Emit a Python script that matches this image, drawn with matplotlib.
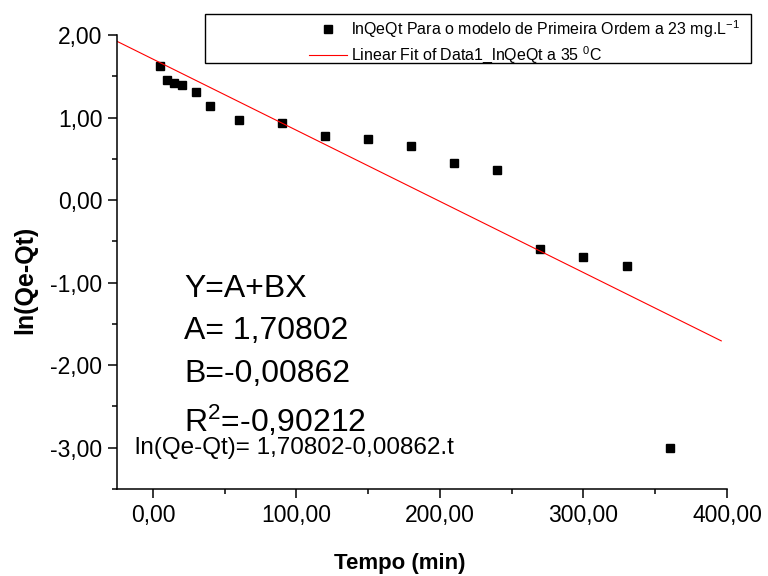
import matplotlib
matplotlib.use("Agg")
import matplotlib.pyplot as plt
from matplotlib.patches import Rectangle
from matplotlib.ticker import MultipleLocator, FuncFormatter

# dados
tempo = [5, 10, 15, 20, 30, 40, 60, 90, 120, 150, 180, 210, 240, 270, 300, 330, 360]
ln_qe_qt = [1.62, 1.45, 1.42, 1.40, 1.31, 1.14, 0.97, 0.93, 0.78, 0.74, 0.65,
            0.45, 0.36, -0.59, -0.69, -0.80, -3.00]

# ajuste linear
A = 1.70802
B = -0.00862
fit_x = [-25, 396]

plt.rcParams['font.family'] = ['Liberation Sans', 'DejaVu Sans']
plt.rcParams['mathtext.default'] = 'regular'


def virgula(v, pos):
    return f"{v:.2f}".replace('.', ',')


def main():
    fig = plt.figure(figsize=(7.68, 5.76), dpi=100)
    ax = fig.add_axes([117 / 768, 1 - 489 / 576, 610 / 768, 454 / 576])

    ax.plot(tempo, ln_qe_qt, 's', color='black', markersize=6, linestyle='none',
            label='lnQeQt Para o modelo de Primeira Ordem a 23 mg.L$^{-1}$')
    fit_y = [A + B * x for x in fit_x]
    ax.plot(fit_x, fit_y, color='red', lw=0.8,
            label='Linear Fit of Data1_lnQeQt a 35 $^{0}$C')

    ax.set_xlim(-25, 400)
    ax.set_ylim(-3.5, 2.0)
    ax.spines['top'].set_visible(False)
    ax.spines['right'].set_visible(False)
    ax.spines['left'].set_linewidth(1.1)
    ax.spines['bottom'].set_linewidth(1.1)

    ax.xaxis.set_major_locator(MultipleLocator(100))
    ax.xaxis.set_minor_locator(MultipleLocator(50))
    ax.yaxis.set_major_locator(MultipleLocator(1))
    ax.yaxis.set_minor_locator(MultipleLocator(0.5))
    ax.xaxis.set_major_formatter(FuncFormatter(virgula))
    ax.yaxis.set_major_formatter(FuncFormatter(virgula))
    ax.tick_params(which='major', direction='out', length=6.5, width=1.1, labelsize=16.5, pad=4)
    ax.tick_params(which='minor', direction='out', length=3.6, width=1.1)

    fig.text(400 / 768, 1 - 563 / 576, 'Tempo (min)', fontsize=16, fontweight='bold',
             ha='center', va='center')
    fig.text(25 / 768, 1 - 280 / 576, 'ln(Qe-Qt)', fontsize=18, fontweight='bold',
             ha='center', va='center', rotation=90)

    # texto do ajuste
    ax.text(22, -1.18, 'Y=A+BX', fontsize=23, va='baseline')
    ax.text(22, -1.68, 'A= 1,70802', fontsize=23, va='baseline')
    ax.text(22, -2.20, 'B=-0,00862', fontsize=23, va='baseline')
    ax.text(22, -2.81, 'R$^{2}$=-0,90212', fontsize=23, va='baseline')
    ax.text(-12.5, -3.08, 'ln(Qe-Qt)= 1,70802-0,00862.t', fontsize=17.5, va='baseline')

    # legenda
    fig.add_artist(Rectangle((205 / 768, 1 - 63 / 576), 546 / 768, 49 / 576,
                             transform=fig.transFigure, fill=False, lw=1, ec='black'))
    ax.legend(loc='upper left', bbox_to_anchor=(309 / 768, 1 - 18 / 576),
              bbox_transform=fig.transFigure, frameon=False, fontsize=11.5,
              handlelength=2.4, handletextpad=0.25, borderpad=0, borderaxespad=0,
              labelspacing=0.3)

    fig.savefig('out.png', dpi=100)


if __name__ == "__main__":
    main()
